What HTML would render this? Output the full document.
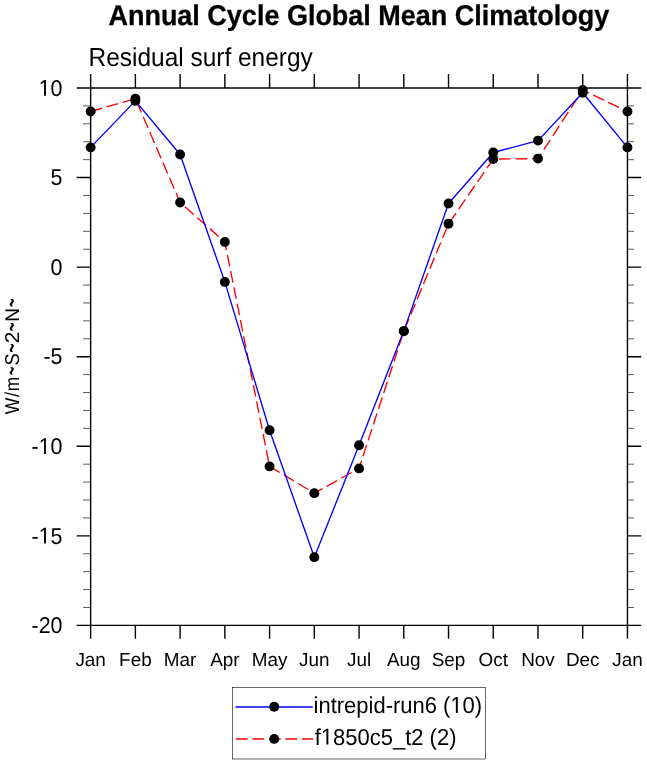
<!DOCTYPE html>
<html><head><meta charset="utf-8"><style>
html,body{margin:0;padding:0;background:#fff;}
body{width:647px;height:765px;overflow:hidden;}
svg{display:block;will-change:transform;}
text{font-family:"Liberation Sans",sans-serif;fill:#000;text-rendering:geometricPrecision;}
</style></head><body>
<svg width="647" height="765" viewBox="0 0 647 765">
<rect x="0" y="0" width="647" height="765" fill="#fff"/>
<text stroke="#000" stroke-width="0.3" transform="translate(358.85,25.3) scale(0.947,1)" text-anchor="middle" font-weight="bold" font-size="28.5">Annual Cycle Global Mean Climatology</text>
<text transform="translate(88.6,65.6) scale(0.94,1)" font-size="26">Residual surf energy</text>
<polyline points="90.65,111.5 135.383,98.6 180.117,202.5 224.85,241.9 269.583,466.4 314.317,493.2 359.05,468.4 403.783,331.3 448.517,223.8 493.25,159.1 537.983,158.6 582.717,90 627.45,111.5" fill="none" stroke="#ff0000" stroke-width="1.35" stroke-dasharray="11.8 4.8" stroke-linejoin="round"/>
<polyline points="90.65,147.4 135.383,100.9 180.117,154.5 224.85,281.9 269.583,430.3 314.317,557.3 359.05,445.2 403.783,331.1 448.517,203.5 493.25,152.5 537.983,140.6 582.717,92.8 627.45,147.4" fill="none" stroke="#0000ff" stroke-width="1.35" stroke-linejoin="round"/>
<circle cx="90.65" cy="111.5" r="4.95"/><circle cx="135.383" cy="98.6" r="4.95"/><circle cx="180.117" cy="202.5" r="4.95"/><circle cx="224.85" cy="241.9" r="4.95"/><circle cx="269.583" cy="466.4" r="4.95"/><circle cx="314.317" cy="493.2" r="4.95"/><circle cx="359.05" cy="468.4" r="4.95"/><circle cx="403.783" cy="331.3" r="4.95"/><circle cx="448.517" cy="223.8" r="4.95"/><circle cx="493.25" cy="159.1" r="4.95"/><circle cx="537.983" cy="158.6" r="4.95"/><circle cx="582.717" cy="90" r="4.95"/><circle cx="627.45" cy="111.5" r="4.95"/><circle cx="90.65" cy="147.4" r="4.95"/><circle cx="135.383" cy="100.9" r="4.95"/><circle cx="180.117" cy="154.5" r="4.95"/><circle cx="224.85" cy="281.9" r="4.95"/><circle cx="269.583" cy="430.3" r="4.95"/><circle cx="314.317" cy="557.3" r="4.95"/><circle cx="359.05" cy="445.2" r="4.95"/><circle cx="403.783" cy="331.1" r="4.95"/><circle cx="448.517" cy="203.5" r="4.95"/><circle cx="493.25" cy="152.5" r="4.95"/><circle cx="537.983" cy="140.6" r="4.95"/><circle cx="582.717" cy="92.8" r="4.95"/><circle cx="627.45" cy="147.4" r="4.95"/>
<path d="M90.65,88H627.45V625.4H90.65ZM90.65,88V74.1M90.65,625.4V638.8M135.383,88V74.1M135.383,625.4V638.8M180.117,88V74.1M180.117,625.4V638.8M224.85,88V74.1M224.85,625.4V638.8M269.583,88V74.1M269.583,625.4V638.8M314.317,88V74.1M314.317,625.4V638.8M359.05,88V74.1M359.05,625.4V638.8M403.783,88V74.1M403.783,625.4V638.8M448.517,88V74.1M448.517,625.4V638.8M493.25,88V74.1M493.25,625.4V638.8M537.983,88V74.1M537.983,625.4V638.8M582.717,88V74.1M582.717,625.4V638.8M627.45,88V74.1M627.45,625.4V638.8M90.65,625.4H76.6M627.45,625.4H641.2M90.65,535.833H76.6M627.45,535.833H641.2M90.65,446.267H76.6M627.45,446.267H641.2M90.65,356.7H76.6M627.45,356.7H641.2M90.65,267.133H76.6M627.45,267.133H641.2M90.65,177.567H76.6M627.45,177.567H641.2M90.65,88H76.6M627.45,88H641.2" fill="none" stroke="#000" stroke-width="1.4"/>
<path d="M90.65,607.487H83.1M627.45,607.487H634M90.65,589.573H83.1M627.45,589.573H634M90.65,571.66H83.1M627.45,571.66H634M90.65,553.747H83.1M627.45,553.747H634M90.65,517.92H83.1M627.45,517.92H634M90.65,500.007H83.1M627.45,500.007H634M90.65,482.093H83.1M627.45,482.093H634M90.65,464.18H83.1M627.45,464.18H634M90.65,428.353H83.1M627.45,428.353H634M90.65,410.44H83.1M627.45,410.44H634M90.65,392.527H83.1M627.45,392.527H634M90.65,374.613H83.1M627.45,374.613H634M90.65,338.787H83.1M627.45,338.787H634M90.65,320.873H83.1M627.45,320.873H634M90.65,302.96H83.1M627.45,302.96H634M90.65,285.047H83.1M627.45,285.047H634M90.65,249.22H83.1M627.45,249.22H634M90.65,231.307H83.1M627.45,231.307H634M90.65,213.393H83.1M627.45,213.393H634M90.65,195.48H83.1M627.45,195.48H634M90.65,159.653H83.1M627.45,159.653H634M90.65,141.74H83.1M627.45,141.74H634M90.65,123.827H83.1M627.45,123.827H634M90.65,105.913H83.1M627.45,105.913H634" fill="none" stroke="#000" stroke-width="0.65"/>
<text transform="translate(62.5,633.15) scale(0.935,1)" text-anchor="end" font-size="22.9">-20</text><text transform="translate(62.5,543.583) scale(0.935,1)" text-anchor="end" font-size="22.9">-15</text><text transform="translate(62.5,454.017) scale(0.935,1)" text-anchor="end" font-size="22.9">-10</text><text transform="translate(62.5,364.45) scale(0.935,1)" text-anchor="end" font-size="22.9">-5</text><text transform="translate(62.5,274.883) scale(0.935,1)" text-anchor="end" font-size="22.9">0</text><text transform="translate(62.5,185.317) scale(0.935,1)" text-anchor="end" font-size="22.9">5</text><text transform="translate(62.5,95.75) scale(0.935,1)" text-anchor="end" font-size="22.9">10</text>
<text transform="translate(90.65,666)" text-anchor="middle" font-size="18.9">Jan</text><text transform="translate(135.383,666)" text-anchor="middle" font-size="18.9">Feb</text><text transform="translate(180.117,666)" text-anchor="middle" font-size="18.9">Mar</text><text transform="translate(224.85,666)" text-anchor="middle" font-size="18.9">Apr</text><text transform="translate(269.583,666)" text-anchor="middle" font-size="18.9">May</text><text transform="translate(314.317,666)" text-anchor="middle" font-size="18.9">Jun</text><text transform="translate(359.05,666)" text-anchor="middle" font-size="18.9">Jul</text><text transform="translate(403.783,666)" text-anchor="middle" font-size="18.9">Aug</text><text transform="translate(448.517,666)" text-anchor="middle" font-size="18.9">Sep</text><text transform="translate(493.25,666)" text-anchor="middle" font-size="18.9">Oct</text><text transform="translate(537.983,666)" text-anchor="middle" font-size="18.9">Nov</text><text transform="translate(582.717,666)" text-anchor="middle" font-size="18.9">Dec</text><text transform="translate(627.45,666)" text-anchor="middle" font-size="18.9">Jan</text>
<g transform="translate(19.1,420) rotate(-90)" font-size="20"><text transform="translate(5.82,0) scale(0.881,1)">W</text><text transform="translate(23.1,0) scale(0.918,1)">/</text><text transform="translate(28.64,0) scale(0.871,1)">m</text><text transform="translate(44.41,4.3) scale(0.769,1.69)">~</text><text transform="translate(54.57,0) scale(0.912,1)">S</text><text transform="translate(67.26,4.3) scale(0.82,1.69)">~</text><text transform="translate(76.75,0) scale(1.043,1)">2</text><text transform="translate(88.48,4.3) scale(0.799,1.69)">~</text><text transform="translate(98.24,0) scale(0.949,1)">N</text><text transform="translate(112.82,4.3) scale(0.759,1.69)">~</text></g>
<rect x="232.5" y="687.5" width="253" height="71.5" fill="#fff" stroke="#000" stroke-width="0.6"/>
<line x1="235.5" y1="707" x2="312.8" y2="707" stroke="#0000ff" stroke-width="1.4"/>
<line x1="235.9" y1="739" x2="313.1" y2="739" stroke="#ff0000" stroke-width="1.4" stroke-dasharray="11.8 4.7"/>
<circle cx="274.2" cy="706.8" r="4.95"/><circle cx="274.2" cy="738.9" r="4.95"/>
<text transform="translate(313.6,712.9) scale(0.955,1)" font-size="23">intrepid-run6 (10)</text>
<text transform="translate(314.8,744.5) scale(0.955,1)" font-size="23">f1850c5_t2 (2)</text>
<path transform="matrix(0.935,0,0,1,62.5,543.583)" d="M-24.813,-17.443H-12.849V1.677H-24.813Z" fill="#fff"/><path transform="matrix(0.935,0,0,1,62.5,543.583)" d="M-19.726,0L-19.726,-13.832L-23.282,-11.293L-23.282,-13.194L-19.558,-15.755L-17.702,-15.755L-17.702,0Z" fill="#000"/><path transform="matrix(0.935,0,0,1,62.5,454.017)" d="M-24.813,-17.443H-12.849V1.677H-24.813Z" fill="#fff"/><path transform="matrix(0.935,0,0,1,62.5,454.017)" d="M-19.726,0L-19.726,-13.832L-23.282,-11.293L-23.282,-13.194L-19.558,-15.755L-17.702,-15.755L-17.702,0Z" fill="#000"/><path transform="matrix(0.935,0,0,1,62.5,95.75)" d="M-24.798,-17.443H-12.833V1.677H-24.798Z" fill="#fff"/><path transform="matrix(0.935,0,0,1,62.5,95.75)" d="M-19.71,0L-19.71,-13.832L-23.266,-11.293L-23.266,-13.194L-19.542,-15.755L-17.686,-15.755L-17.686,0Z" fill="#000"/><path transform="matrix(0.955,0,0,1,313.6,712.9)" d="M143.846,-17.52H155.862V1.685H143.846Z" fill="#fff"/><path transform="matrix(0.955,0,0,1,313.6,712.9)" d="M148.956,0L148.956,-13.892L145.384,-11.343L145.384,-13.252L149.124,-15.824L150.988,-15.824L150.988,0Z" fill="#000"/><path transform="matrix(0.955,0,0,1,314.8,744.5)" d="M7.049,-17.52H19.065V1.685H7.049Z" fill="#fff"/><path transform="matrix(0.955,0,0,1,314.8,744.5)" d="M12.159,0L12.159,-13.892L8.587,-11.343L8.587,-13.252L12.327,-15.824L14.191,-15.824L14.191,0Z" fill="#000"/>
</svg>
</body></html>
